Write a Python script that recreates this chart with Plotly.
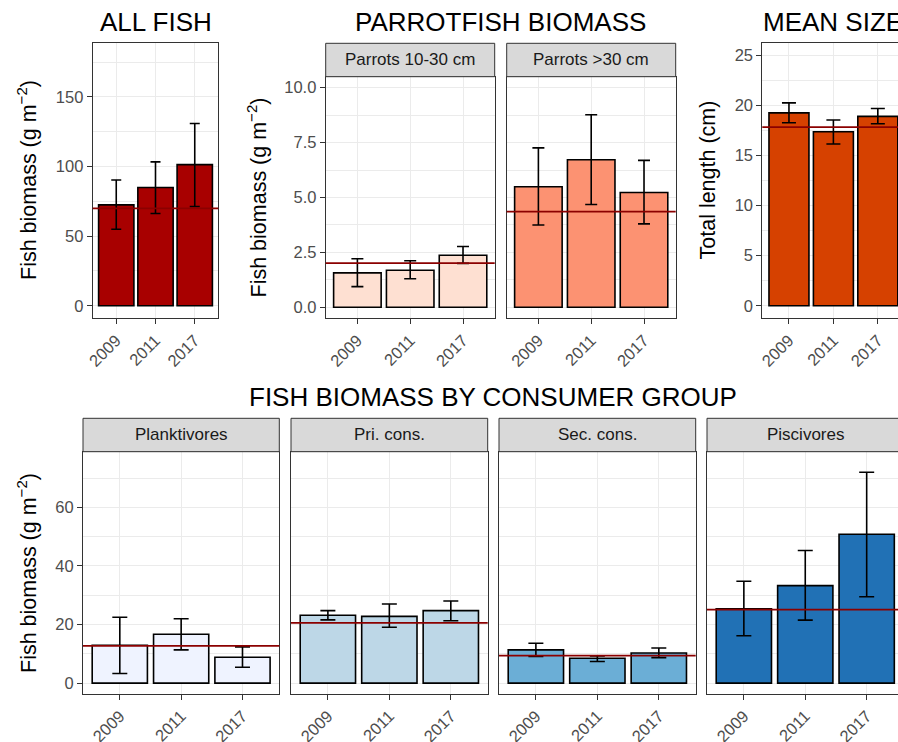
import plotly.graph_objects as go

W, H = 898, 742

years = ["2009", "2011", "2017"]

# ALL FISH
all_fish = [72.5, 85.0, 101.4]
all_fish_hi = [90.4, 103.4, 131.0]
all_fish_lo = [55.0, 66.3, 71.3]
all_fish_mean = 70.0

# PARROTFISH
parrot_small = [1.57, 1.69, 2.37]
parrot_small_hi = [2.21, 2.12, 2.77]
parrot_small_lo = [0.94, 1.30, 2.00]
parrot_small_mean = 2.01

parrot_large = [5.49, 6.72, 5.23]
parrot_large_hi = [7.26, 8.77, 6.69]
parrot_large_lo = [3.75, 4.68, 3.80]
parrot_large_mean = 4.36

# MEAN SIZE
mean_size = [19.25, 17.36, 18.90]
mean_size_hi = [20.25, 18.53, 19.69]
mean_size_lo = [18.26, 16.14, 18.16]
mean_size_mean = 17.83

# CONSUMER GROUPS
plank = [12.95, 16.7, 8.86]
plank_hi = [22.5, 22.0, 12.4]
plank_lo = [3.3, 11.35, 5.45]
plank_mean = 12.7

pri = [23.2, 22.8, 24.75]
pri_hi = [24.75, 27.0, 28.05]
pri_lo = [21.6, 19.1, 21.3]
pri_mean = 20.55

sec = [11.35, 8.5, 10.3]
sec_hi = [13.6, 9.3, 12.0]
sec_lo = [9.1, 7.4, 8.7]
sec_mean = 9.4

pisc = [25.4, 33.3, 50.8]
pisc_hi = [34.8, 45.3, 72.0]
pisc_lo = [16.2, 21.5, 29.5]
pisc_mean = 25.1

FONT = "Liberation Sans, Arial, sans-serif"
GRID = "#EBEBEB"
BORDER = "#333333"
MEANLINE = "#8B0000"
TICKSIZE = 16.5


def px(x):
    return x / W


def py(y):
    return 1 - y / H


panels = [
    dict(x0=92.7, x1=218.3, y0=42.7, y1=318.3, xr=[-0.6, 2.6], yr=[-9, 189], dt=50, mn=25,
         lab=True, my=True, cap=5, col="#A80000", v=all_fish, hi=all_fish_hi, lo=all_fish_lo, m=all_fish_mean, fmt=""),
    dict(x0=325.7, x1=494.7, y0=76.7, y1=318.3, xr=[-0.6, 2.6], yr=[-0.5, 10.5], dt=2.5, mn=1.25,
         lab=True, my=True, cap=6, col="#FEE0D2", v=parrot_small, hi=parrot_small_hi, lo=parrot_small_lo, m=parrot_small_mean, fmt=".1f"),
    dict(x0=506.7, x1=675.7, y0=76.7, y1=318.3, xr=[-0.6, 2.6], yr=[-0.5, 10.5], dt=2.5, mn=1.25,
         lab=False, my=True, cap=6, col="#FC9272", v=parrot_large, hi=parrot_large_hi, lo=parrot_large_lo, m=parrot_large_mean, fmt=".1f"),
    dict(x0=762.3, x1=898, y0=42.7, y1=318.3, xr=[-0.6, 2.454], yr=[-1.25, 26.25], dt=5, mn=2.5,
         lab=True, my=False, cap=7, col="#D64100", v=mean_size, hi=mean_size_hi, lo=mean_size_lo, m=mean_size_mean, fmt=""),
    dict(x0=83, x1=279.3, y0=451.7, y1=694, xr=[-0.6, 2.6], yr=[-3.7, 79], dt=20, mn=10,
         lab=True, my=True, cap=7.5, col="#EFF3FF", v=plank, hi=plank_hi, lo=plank_lo, m=plank_mean, fmt=""),
    dict(x0=291, x1=487.7, y0=451.7, y1=694, xr=[-0.6, 2.6], yr=[-3.7, 79], dt=20, mn=10,
         lab=False, my=True, cap=7.5, col="#BDD7E7", v=pri, hi=pri_hi, lo=pri_lo, m=pri_mean, fmt=""),
    dict(x0=499, x1=695.7, y0=451.7, y1=694, xr=[-0.6, 2.6], yr=[-3.7, 79], dt=20, mn=10,
         lab=False, my=True, cap=7.5, col="#6BAED6", v=sec, hi=sec_hi, lo=sec_lo, m=sec_mean, fmt=""),
    dict(x0=707, x1=898, y0=451.7, y1=694, xr=[-0.6, 2.51], yr=[-3.7, 79], dt=20, mn=10,
         lab=False, my=False, cap=7.5, col="#2171B5", v=pisc, hi=pisc_hi, lo=pisc_lo, m=pisc_mean, fmt=""),
]

fig = go.Figure()
layout = dict(template="none", width=W, height=H, margin=dict(l=0, r=0, t=0, b=0, pad=0, autoexpand=False),
              paper_bgcolor="white", plot_bgcolor="white", showlegend=False,
              font=dict(family=FONT), shapes=[], annotations=[])

for i, p in enumerate(panels):
    n = "" if i == 0 else str(i + 1)
    xa, ya = "xaxis" + n, "yaxis" + n
    xr, yr = "x" + n, "y" + n
    err_up = [h - v for h, v in zip(p["hi"], p["v"])]
    err_dn = [v - l for v, l in zip(p["v"], p["lo"])]
    fig.add_trace(go.Bar(
        x=years, y=p["v"], xaxis=xr, yaxis=yr, width=0.9,
        marker=dict(color=p["col"], line=dict(color="black", width=1.6)),
        error_y=dict(type="data", symmetric=False, array=err_up, arrayminus=err_dn,
                     color="black", thickness=1.6, width=p["cap"]),
        hoverinfo="skip"))
    layout[xa] = dict(domain=[px(p["x0"]), px(p["x1"])], anchor=yr, type="category",
                      range=p["xr"], showgrid=True, gridcolor=GRID, gridwidth=1,
                      showline=True, linecolor=BORDER, linewidth=1, mirror=True,
                      ticks="outside", ticklen=5, tickcolor=BORDER, tickwidth=1,
                      tickangle=-45, tickfont=dict(size=TICKSIZE, color="#4D4D4D", family=FONT),
                      zeroline=False, fixedrange=True, automargin=False)
    layout[ya] = dict(domain=[py(p["y1"]), py(p["y0"])], anchor=xr,
                      range=p["yr"], tick0=0, dtick=p["dt"], showgrid=True, gridcolor=GRID, gridwidth=1,
                      minor=dict(dtick=p["mn"], tick0=0, showgrid=True, gridcolor=GRID, gridwidth=0.6, ticks=""),
                      showline=True, linecolor=BORDER, linewidth=1, mirror=p["my"],
                      ticks="outside" if p["lab"] else "", ticklen=5, tickcolor=BORDER, tickwidth=1,
                      showticklabels=p["lab"], tickformat=p["fmt"],
                      tickfont=dict(size=TICKSIZE, color="#4D4D4D", family=FONT),
                      zeroline=False, fixedrange=True, automargin=False)
    layout["shapes"].append(dict(type="line", xref=xr + " domain", yref=yr, x0=0, x1=1,
                                 y0=p["m"], y1=p["m"], line=dict(color=MEANLINE, width=1.8)))

strips = [
    ("Parrots 10-30 cm", 325.7, 494.7, 43.3, 76.7),
    ("Parrots >30 cm", 506.7, 675.7, 43.3, 76.7),
    ("Planktivores", 83, 279.3, 418.3, 451.7),
    ("Pri. cons.", 291, 487.7, 418.3, 451.7),
    ("Sec. cons.", 499, 695.7, 418.3, 451.7),
    ("Piscivores", 707, 903.5, 418.3, 451.7),
]
for txt, x0, x1, y0, y1 in strips:
    layout["shapes"].append(dict(type="rect", xref="paper", yref="paper",
                                 x0=px(x0), x1=px(x1), y0=py(y1), y1=py(y0),
                                 fillcolor="#D9D9D9", line=dict(color=BORDER, width=1)))
    layout["annotations"].append(dict(text=txt, xref="paper", yref="paper",
                                      x=px((x0 + x1) / 2), y=py((y0 + y1) / 2),
                                      xanchor="center", yanchor="middle", showarrow=False,
                                      font=dict(size=17, color="#1A1A1A", family=FONT)))

titles = [
    ("ALL FISH", 155.5, 22),
    ("PARROTFISH BIOMASS", 500.7, 22),
    ("MEAN SIZE", 833.4, 22),
    ("FISH BIOMASS BY CONSUMER GROUP", 493.2, 397),
]
for txt, x, y in titles:
    layout["annotations"].append(dict(text=txt, xref="paper", yref="paper",
                                      x=px(x), y=py(y), xanchor="center", yanchor="middle",
                                      showarrow=False, font=dict(size=26, color="black", family=FONT)))

ytitles = [
    ("Fish biomass (g m<sup>−2</sup>)", 26.5, 180.5),
    ("Fish biomass (g m<sup>−2</sup>)", 256, 197.5),
    ("Total length (cm)", 707, 180.5),
    ("Fish biomass (g m<sup>−2</sup>)", 27, 573),
]
for txt, x, y in ytitles:
    layout["annotations"].append(dict(text=txt, xref="paper", yref="paper", textangle=-90,
                                      x=px(x), y=py(y), xanchor="center", yanchor="middle",
                                      showarrow=False, font=dict(size=21.5, color="black", family=FONT)))

fig.update_layout(**layout)
fig.write_html("out.html", config=dict(displayModeBar=False),
               post_script="document.body.style.margin='0px';document.body.style.overflow='hidden';")
